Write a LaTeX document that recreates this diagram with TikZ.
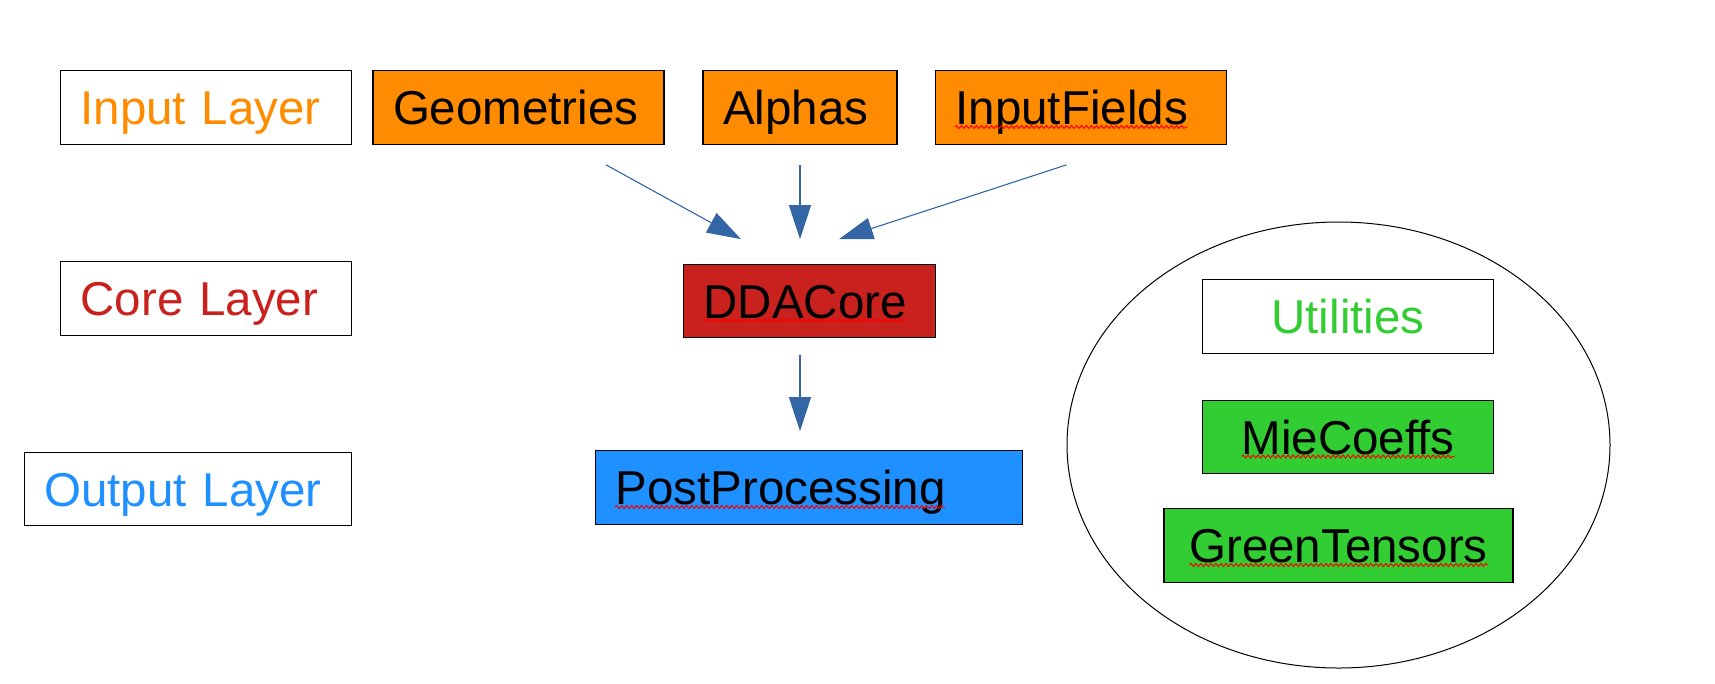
\documentclass[tikz,border=0pt]{standalone}
\usepackage{fontspec}
\setmainfont{Liberation Sans}
\usetikzlibrary{arrows.meta,shapes.geometric,decorations.pathmorphing}

\definecolor{inorange}{HTML}{FF8C00}
\definecolor{corered}{HTML}{C9211E}
\definecolor{outblue}{HTML}{1E90FF}
\definecolor{utilgreen}{HTML}{32CD32}
\definecolor{arrowblue}{HTML}{3465A4}

\tikzset{
	box/.style={draw=black, line width=1.2pt, minimum height=73.5pt, inner xsep=20pt, inner ysep=0pt, text height=34pt, text depth=0pt, align=left},
	flow/.style={draw=arrowblue, line width=1.1pt, -{Triangle[length=34pt,width=22pt]}},
	wave/.style={draw=red, line width=1pt, decorate, decoration={snake, amplitude=1.5pt, segment length=5pt}}
}

\begin{document}
\fontsize{47.5}{57}\selectfont
\begin{tikzpicture}[x=1pt,y=-1pt]
	\useasboundingbox (0,0) rectangle (1715,683);
	
	%LAYER NAMES
	\node[box, text width=251pt, text=inorange] (inlayer) at (206,107.5) {Input Layer};
	\node[box, text width=251pt, text=corered] (corelayer) at (206,298.5) {Core Layer};
	\node[box, text width=287.5pt, text=outblue] (outlayer) at (188,489) {Output Layer};
	
	%INPUT
	\node[box, text width=251pt, fill=inorange] (geom) at (518.5,107.5) {Geometries};
	\node[box, text width=154pt, fill=inorange] (alphas) at (800,107.5) {Alphas};
	\node[box, text width=251pt, fill=inorange] (infields) at (1081,107.5) {InputFields};
	
	%CORE AND OUTPUT
	\node[box, text width=212pt, fill=corered] (dda) at (809.5,301) {DDACore};
	\node[box, text width=386.5pt, fill=outblue] (post) at (809,487.5) {PostProcessing};
	
	%UTILITIES
	\node[draw, ellipse, line width=1pt, inner sep=0pt, minimum width=543pt, minimum height=446pt] (utils) at (1338.5,445) {};
	\node[box, text width=251.5pt, align=center, text=utilgreen] (util) at (1348,316.5) {Utilities};
	\node[box, text width=251.5pt, align=center, fill=utilgreen] (mie) at (1348,437) {MieCoeffs};
	\node[box, text width=309pt, align=center, fill=utilgreen] (green) at (1338.5,545.5) {GreenTensors};
	
	%ARROWS
	\draw[flow] ([xshift=87.5pt,yshift=-20pt]geom.south) -- ([xshift=-68.5pt,yshift=24.5pt]dda.north);
	\draw[flow] ([yshift=-20pt]alphas.south) -- ([xshift=-9.5pt,yshift=24.5pt]dda.north);
	\draw[flow] ([xshift=-14.5pt,yshift=-20pt]infields.south) -- ([xshift=29.5pt,yshift=24.5pt]dda.north);
	\draw[flow] ([xshift=-9.5pt,yshift=-17pt]dda.south) -- ([xshift=-9pt,yshift=19pt]post.north);
	
	%SPELLING MARKS
	\foreach \nd/\txt in {infields/InputFields, dda/DDACore, post/PostProcessing}{
		\pgfmathsetmacro\w{width("\txt")}
		\draw[wave] ([xshift=20pt,yshift=-2.5pt]\nd.base west) -- ++(\w,0);
	}
	\foreach \nd/\txt in {mie/MieCoeffs, green/GreenTensors}{
		\pgfmathsetmacro\w{width("\txt")}
		\draw[wave] ([xshift=-\w/2,yshift=-2.5pt]\nd.base) -- ++(\w,0);
	}
\end{tikzpicture}
\end{document}
